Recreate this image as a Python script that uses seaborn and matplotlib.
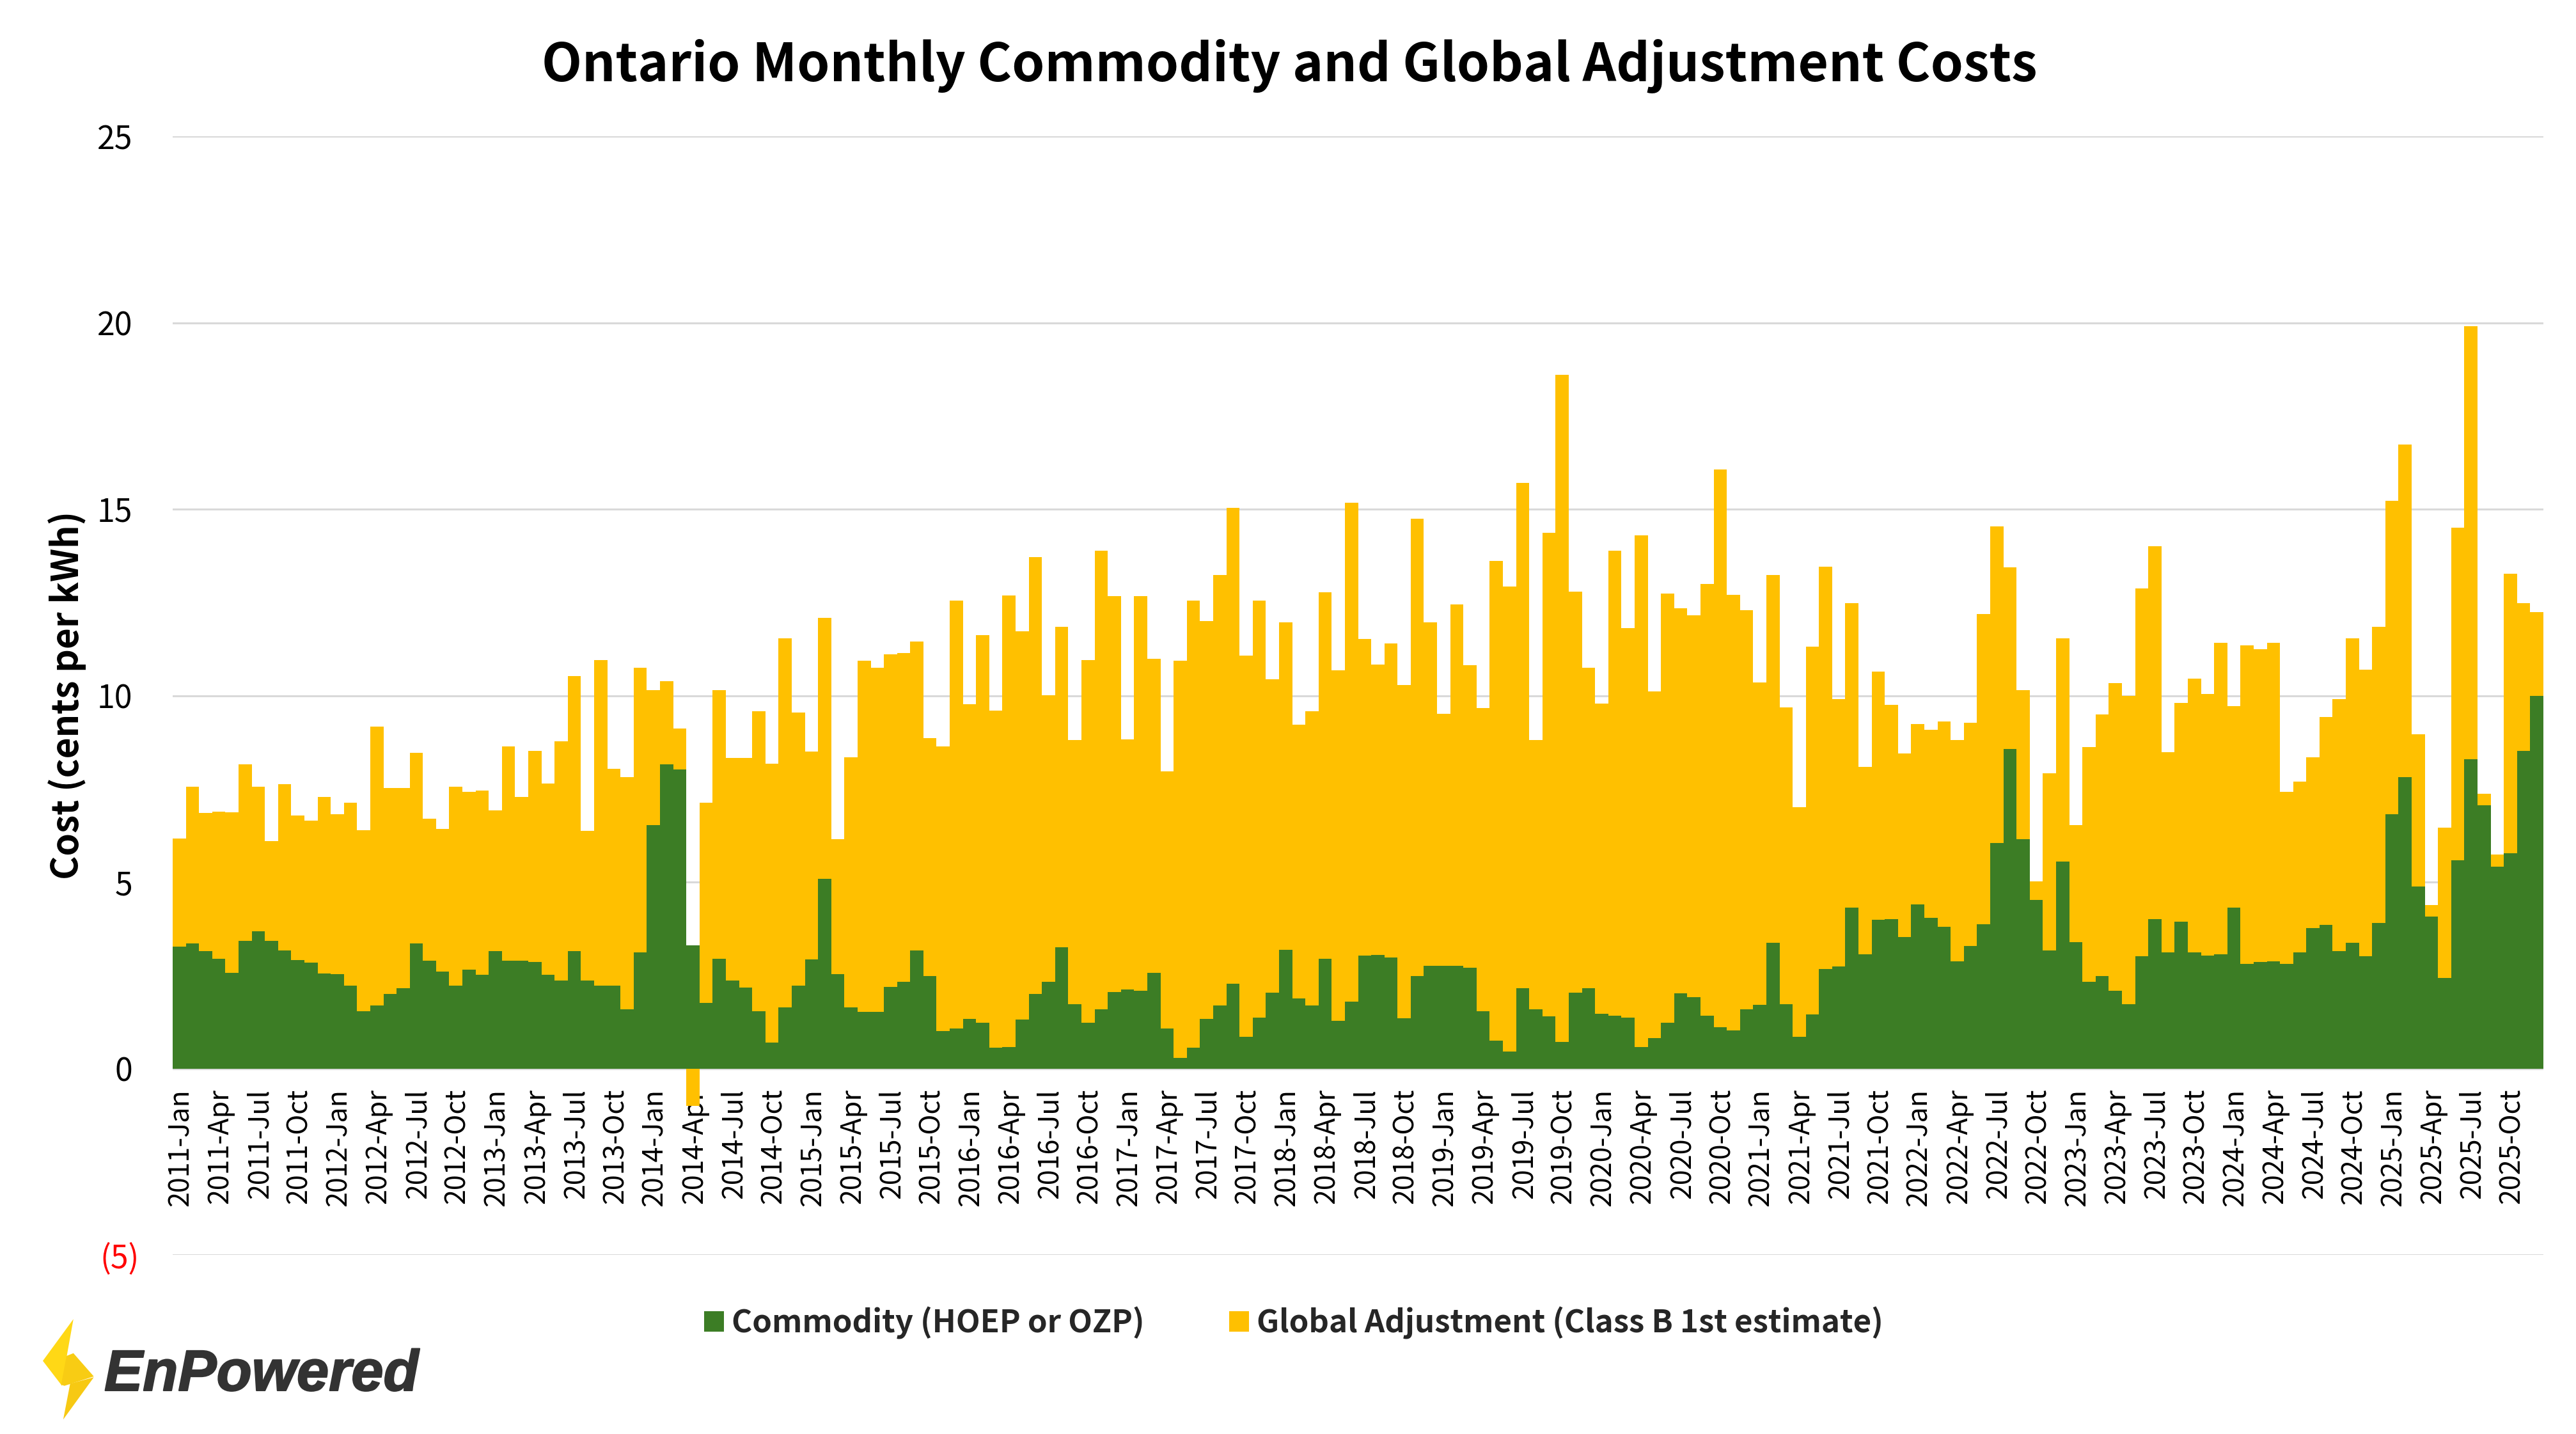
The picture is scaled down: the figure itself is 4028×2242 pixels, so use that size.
import numpy as np
import pandas as pd
import matplotlib
matplotlib.use("Agg")
import matplotlib.pyplot as plt
import matplotlib.patheffects as pe
from matplotlib.patches import Polygon
from matplotlib.transforms import ScaledTranslation
import seaborn as sns

title = "Ontario Monthly Commodity and Global Adjustment Costs"
ylabel = "Cost (cents per kWh)"
series_names = ["Commodity (HOEP or OZP)", "Global Adjustment (Class B 1st estimate)"]
month_names = ["Jan","Feb","Mar","Apr","May","Jun","Jul","Aug","Sep","Oct","Nov","Dec"]
years = list(range(2011, 2026))
yticks = [-5, 0, 5, 10, 15, 20, 25]
ytick_labels = ["(5)", "0", "5", "10", "15", "20", "25"]

commodity = [
 3.27,3.35,3.14,2.94,2.56,3.43,3.68,3.43,3.17,2.91,2.84,2.55,
 2.53,2.22,1.53,1.69,1.99,2.15,3.35,2.89,2.60,2.22,2.65,2.51,
 3.14,2.89,2.89,2.86,2.51,2.35,3.14,2.35,2.22,2.22,1.58,3.11,
 6.52,8.15,8.02,3.30,1.76,2.94,2.35,2.17,1.53,0.69,1.63,2.22,
 2.93,5.09,2.53,1.63,1.51,1.51,2.19,2.32,3.17,2.48,1.00,1.08,
 1.33,1.23,0.56,0.58,1.31,1.99,2.32,3.25,1.73,1.22,1.58,2.05,
 2.12,2.09,2.56,1.08,0.28,0.56,1.33,1.69,2.28,0.85,1.36,2.04,
 3.19,1.87,1.69,2.94,1.28,1.79,3.02,3.04,2.97,1.35,2.48,2.76,
 2.76,2.76,2.71,1.54,0.74,0.46,2.15,1.58,1.40,0.71,2.04,2.15,
 1.46,1.41,1.36,0.58,0.81,1.22,2.02,1.92,1.41,1.10,1.02,1.58,
 1.71,3.37,1.73,0.85,1.45,2.66,2.73,4.32,3.06,3.98,4.01,3.53,
 4.40,4.04,3.80,2.88,3.29,3.86,6.05,8.56,6.15,4.52,3.17,5.55,
 3.39,2.33,2.48,2.09,1.73,3.01,4.01,3.12,3.93,3.12,3.02,3.07,
 4.31,2.81,2.86,2.88,2.81,3.12,3.76,3.85,3.14,3.37,3.01,3.91,
 6.82,7.82,4.88,4.08,2.43,5.59,8.30,7.05,5.42,5.78,8.51,9.99,
]
global_adjustment = [
 2.89,4.21,3.71,3.94,4.31,4.72,3.88,2.66,4.45,3.88,3.80,4.73,
 4.29,4.91,4.86,7.48,5.54,5.37,5.11,3.80,3.83,5.34,4.77,4.95,
 3.78,5.74,4.39,5.65,5.14,6.43,7.38,4.03,8.73,5.82,6.24,7.63,
 3.62,2.24,1.10,-1.00,5.37,7.20,5.98,6.15,8.05,7.49,9.91,7.33,
 5.57,7.00,3.62,6.72,9.43,9.24,8.91,8.82,8.28,6.38,7.63,11.47,
 8.43,10.39,9.04,12.11,10.42,11.72,7.69,8.59,7.07,9.73,12.31,10.62,
 6.71,10.57,8.43,6.89,10.65,11.98,10.67,11.54,12.75,10.22,11.19,8.40,
 8.78,7.35,7.89,9.83,9.40,13.38,8.50,7.79,8.43,8.94,12.26,9.20,
 6.75,9.68,8.10,8.12,12.87,12.46,13.56,7.23,12.97,17.90,10.75,8.59,
 8.33,12.47,10.45,13.72,9.30,11.52,10.32,10.24,11.59,14.97,11.68,10.71,
 8.64,9.86,7.95,6.15,9.86,10.80,7.18,8.15,5.03,6.66,5.74,4.91,
 4.83,5.05,5.51,5.92,5.98,8.32,8.48,4.88,3.99,0.49,4.75,5.98,
 3.14,6.29,7.02,8.25,8.27,9.86,9.99,5.37,5.87,7.33,7.03,8.35,
 5.41,8.53,8.38,8.53,4.60,4.58,4.58,5.57,6.77,8.17,7.69,7.94,
 8.40,8.91,4.09,0.31,4.03,8.91,11.60,0.31,0.31,7.49,3.96,2.24,
]

GREEN = "#3C7D25"
YELLOW = "#FFC000"
W, H = 4028, 2242
FONT = ["Noto Sans CJK SC", "DejaVu Sans"]

sns.set_theme(style="white")
plt.rcParams["font.family"] = FONT

months = [f"{y}-{m}" for y in years for m in month_names]
df = pd.DataFrame({"month": months, "commodity": commodity, "ga": global_adjustment})
# A stacked column: GA sits on commodity when positive and hangs below zero when negative.
df["ga_top"] = np.where(df["ga"] < 0, df["ga"], df["commodity"] + df["ga"])

fig = plt.figure(figsize=(W / 100, H / 100), dpi=100, facecolor="white")
ax = fig.add_axes([270 / W, 1 - 1962 / H, (3977 - 270) / W, (1962 - 213) / H])

sns.barplot(data=df, x="month", y="ga_top", color=YELLOW, saturation=1, width=1,
            linewidth=0, label=series_names[1], ax=ax, zorder=2, errorbar=None)
sns.barplot(data=df, x="month", y="commodity", color=GREEN, saturation=1, width=1,
            linewidth=0, label=series_names[0], ax=ax, zorder=3, errorbar=None)

ax.set_xlim(-0.5, len(months) - 0.5)
ax.set_ylim(yticks[0], yticks[-1])
ax.set_yticks(yticks)
ax.set_yticklabels(ytick_labels)
ax.set_xticks(range(0, len(months), 3))
ax.set_xticklabels(months[::3], rotation=90, fontsize=31)
ax.yaxis.grid(True, color="#D9D9D9", linewidth=2.2, zorder=1)
ax.xaxis.grid(False)
ax.set_axisbelow(True)
for s in ax.spines.values():
    s.set_visible(False)
ax.tick_params(axis="y", length=0, pad=45, labelsize=36, labelcolor="black")
ax.tick_params(axis="x", length=0, pad=0, labelcolor="black")
ax.yaxis.get_major_ticks()[0].set_pad(37.5)
# x labels hang just under the zero line, inside the axes
nudge = ScaledTranslation(2.5 / 100, 0, fig.dpi_scale_trans)
for lab in ax.get_xticklabels():
    lab.set_transform(ax.get_xaxis_transform() + nudge)
    lab.set_position((lab.get_position()[0], (1962 - 1702) / (1962 - 213)))
    lab.set_va("top")
    lab.set_ha("center")
ax.get_yticklabels()[0].set_color("#FF0000")
ax.set_xlabel("")
ax.set_ylabel("")

fig.text(2016 / W, 1 - 103 / H, title, ha="center", va="center", fontsize=59, fontweight="bold", color="black")
fig.text(105 / W, 1 - 1087 / H, ylabel, ha="center", va="center", rotation=90, fontsize=41, fontweight="bold", color="black")

handles, labels = ax.get_legend_handles_labels()
ax.get_legend().remove()
order = [labels.index(n) for n in series_names]
leg = fig.legend([handles[i] for i in order], [labels[i] for i in order],
                 loc="center", bbox_to_anchor=(2023 / W, 1 - 2068 / H), ncol=2, frameon=False,
                 prop={"family": FONT, "weight": "bold", "size": 35.4},
                 handlelength=0.62, handleheight=0.62, handletextpad=0.25, columnspacing=2.7,
                 borderpad=0, borderaxespad=0)

# Logo
def logo_pts(pts):
    return [((x / 1.568) / W, 1 - (1950 + y / 3) / H) for x, y in pts]
fig.add_artist(Polygon(logo_pts([(180, 337), (105, 533), (152, 650), (165, 497)]), closed=True, fc="#FFD816", ec="none", transform=fig.transFigure))
fig.add_artist(Polygon(logo_pts([(172, 640), (230, 610), (155, 808)]), closed=True, fc="#F7C913", ec="none", transform=fig.transFigure))
fig.add_artist(Polygon(logo_pts([(150, 645), (163, 510), (180, 497), (230, 606), (158, 650)]), closed=True, fc="#F8CC14", ec="none", transform=fig.transFigure))
fig.text(163 / W, 1 - 2174 / H, "EnPowered", ha="left", va="baseline", fontsize=65,
         family="Liberation Sans", fontweight="bold", fontstyle="italic", color="#333333",
         path_effects=[pe.withStroke(linewidth=1.5, foreground="#333333")])

fig.savefig("out.png", dpi=100, facecolor="white")
